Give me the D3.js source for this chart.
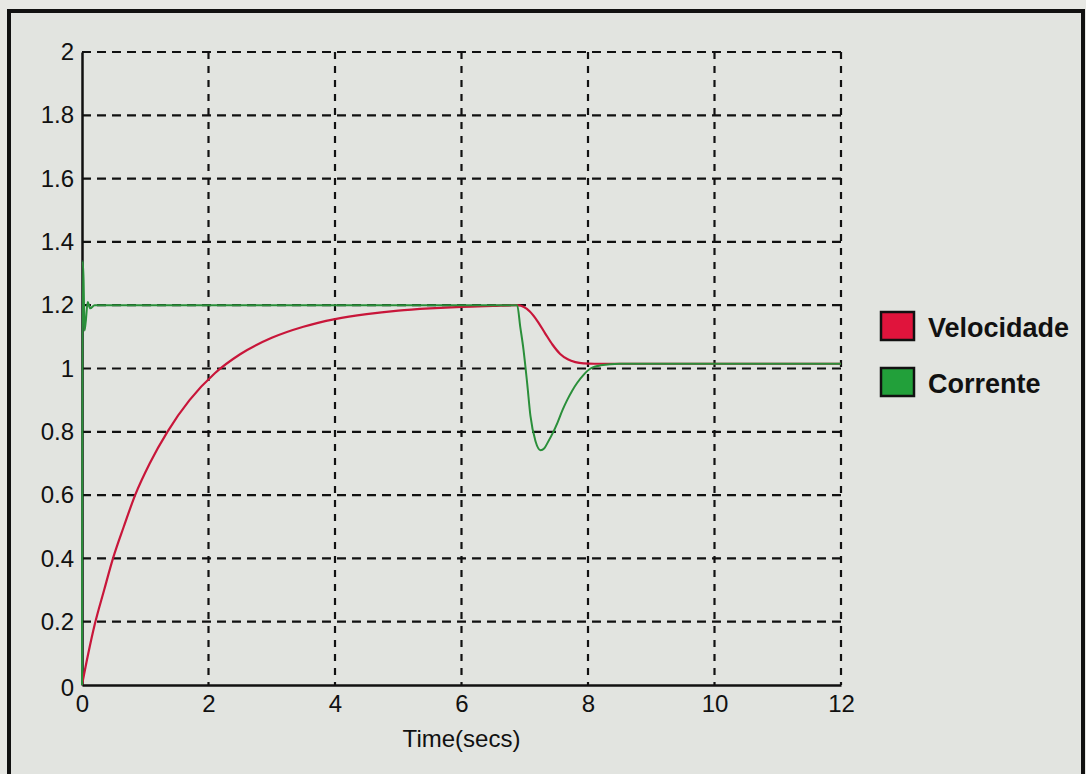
<!DOCTYPE html>
<html>
<head>
<meta charset="utf-8">
<script src="https://cdn.jsdelivr.net/npm/d3@7"></script>
<style>
  html, body { margin: 0; padding: 0; background: #e7e8e4; }
  svg { display: block; }
  text { font-family: "Liberation Sans", Arial, sans-serif; fill: #111; }
</style>
</head>
<body>
<svg id="chart" width="1086" height="774"></svg>
<script>
// ---- data ----
const xTicks = [0, 2, 4, 6, 8, 10, 12];
const yTicks = [0, 0.2, 0.4, 0.6, 0.8, 1, 1.2, 1.4, 1.6, 1.8, 2];
const yTickLabels = ["0", "0.2", "0.4", "0.6", "0.8", "1", "1.2", "1.4", "1.6", "1.8", "2"];
const seriesNames = ["Velocidade", "Corrente"];

const velocidadeT = [0, 0.1, 0.2, 0.35, 0.49, 0.66, 0.84, 1.07, 1.35, 1.7, 2.1, 2.5, 3.0, 3.5, 4.0, 4.5, 5.0, 5.5, 6.0, 6.5, 6.88, 6.98, 7.08, 7.2, 7.32, 7.44, 7.56, 7.68, 7.8, 7.93, 8.1, 8.5, 9, 10, 11, 12];
const velocidadeV = [0, 0.1, 0.19, 0.3, 0.4, 0.5, 0.6, 0.7, 0.8, 0.9, 0.985, 1.045, 1.097, 1.132, 1.156, 1.172, 1.183, 1.19, 1.195, 1.198, 1.2, 1.195, 1.18, 1.15, 1.112, 1.075, 1.046, 1.029, 1.02, 1.016, 1.015, 1.015, 1.015, 1.015, 1.015, 1.015];

const correnteT = [0, 0.01, 0.025, 0.04, 0.06, 0.09, 0.13, 0.2, 0.3, 6.88, 6.93, 6.98, 7.04, 7.09, 7.17, 7.25, 7.31, 7.36, 7.44, 7.52, 7.6, 7.67, 7.75, 7.83, 7.93, 8.04, 8.2, 8.5, 9, 10, 11, 12];
const correnteV = [0, 1.34, 1.28, 1.12, 1.15, 1.21, 1.19, 1.2, 1.2, 1.2, 1.13, 1.06, 0.95, 0.85, 0.77, 0.742, 0.748, 0.765, 0.795, 0.83, 0.87, 0.9, 0.93, 0.955, 0.98, 1.0, 1.01, 1.015, 1.015, 1.015, 1.015, 1.015];

const velocidade = velocidadeT.map((t, i) => ({ t, v: velocidadeV[i] }));
const corrente = correnteT.map((t, i) => ({ t, v: correnteV[i] }));

// ---- layout ----
const svg = d3.select("#chart");
const x = d3.scaleLinear().domain([0, 12]).range([82, 841]);
const y = d3.scaleLinear().domain([0, 2]).range([685, 52]);

// frame background + border
svg.append("rect").attr("x", 9).attr("y", 11).attr("width", 1074).attr("height", 780)
  .attr("fill", "#e2e4e0").attr("stroke", "#111").attr("stroke-width", 4);

const g = svg.append("g");

// grid: horizontal
g.append("g").selectAll("line").data(yTicks.filter(d => d > 0)).join("line")
  .attr("x1", x(0)).attr("x2", x(12))
  .attr("y1", d => y(d)).attr("y2", d => y(d))
  .attr("stroke", "#111").attr("stroke-width", 2.2)
  .attr("stroke-dasharray", "9,6");
// grid: vertical
g.append("g").selectAll("line").data(xTicks.filter(d => d > 0)).join("line")
  .attr("x1", d => x(d)).attr("x2", d => x(d))
  .attr("y1", y(2)).attr("y2", y(0))
  .attr("stroke", "#111").attr("stroke-width", 2.2)
  .attr("stroke-dasharray", "7,7");

// axes (solid left and bottom)
const xAxis = d3.axisBottom(x).tickValues(xTicks).tickSize(0).tickPadding(10).tickFormat(d3.format("d"));
const yAxis = d3.axisLeft(y).tickValues(yTicks).tickSize(0).tickPadding(8)
  .tickFormat((d, i) => yTickLabels[i]);

const gx = g.append("g").attr("transform", `translate(0,${y(0)})`).call(xAxis);
const gy = g.append("g").attr("transform", `translate(${x(0)},0)`).call(yAxis);
[gx, gy].forEach(a => {
  a.select(".domain").attr("stroke", "#111").attr("stroke-width", 2.5);
  a.selectAll("text").attr("font-size", 24).attr("fill", "#111")
    .attr("font-family", "'Liberation Sans', Arial, sans-serif");
});
gx.selectAll(".tick text").attr("dy", "0.72em");
gy.selectAll(".tick text").filter(d => d === 0).attr("dy", "0.45em");

// x-axis title
g.append("text").attr("x", x(6)).attr("y", 747).attr("text-anchor", "middle")
  .attr("font-size", 24).text("Time(secs)");

// lines
const line = d3.line().x(d => x(d.t)).y(d => y(d.v)).curve(d3.curveMonotoneX);
g.append("path").datum(velocidade).attr("d", line)
  .attr("fill", "none").attr("stroke", "#c8163a").attr("stroke-width", 2.2);
g.append("path").datum(corrente).attr("d", line)
  .attr("fill", "none").attr("stroke", "#2a8f3a").attr("stroke-width", 2);

// legend
const colors = ["#e0143c", "#22a03a"];
const lg = svg.append("g").selectAll("g").data(seriesNames).join("g")
  .attr("transform", (d, i) => `translate(881,${312 + i * 56})`);
lg.append("rect").attr("width", 33).attr("height", 28)
  .attr("fill", (d, i) => colors[i]).attr("stroke", "#111").attr("stroke-width", 2.5);
lg.append("text").attr("x", 47).attr("y", 25).attr("font-size", 27).attr("font-weight", "bold")
  .text(d => d);
</script>
</body>
</html>
